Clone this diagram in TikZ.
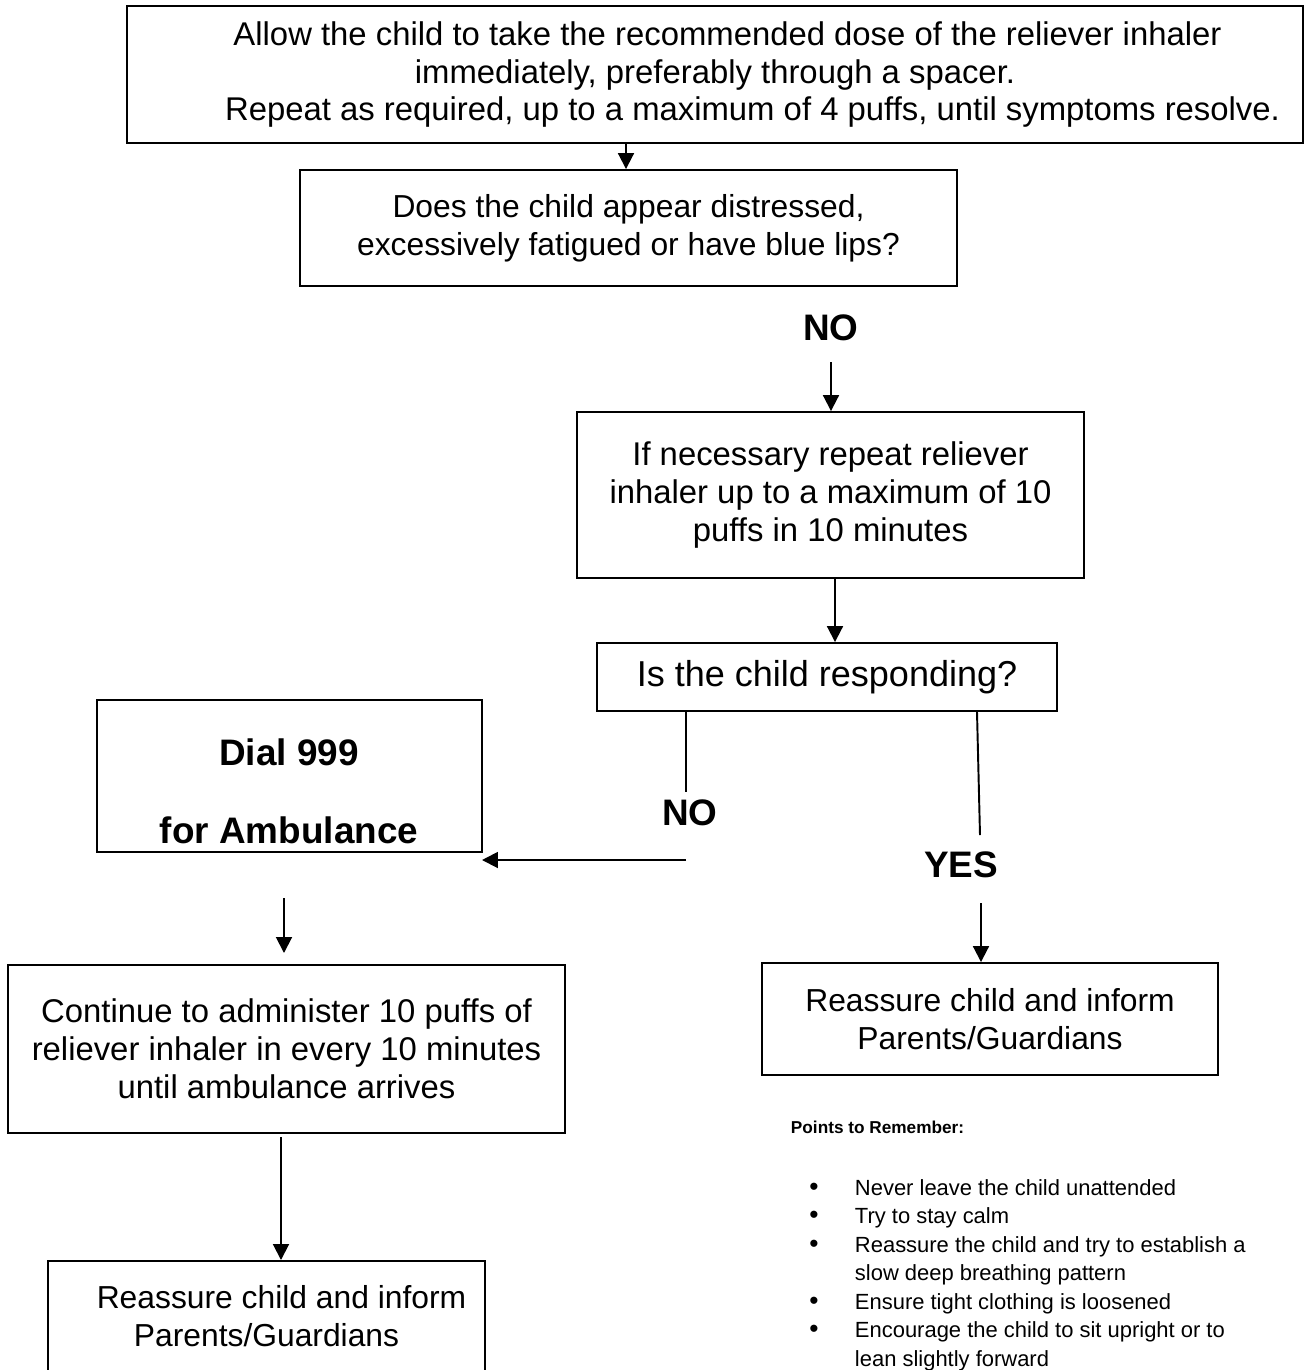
\documentclass[tikz,border=0pt]{standalone}
\usepackage{fontspec}
\setmainfont{Liberation Sans}
\usetikzlibrary{arrows.meta}
\newcommand{\boxfont}{\fontsize{18.7}{21.5}\selectfont}
\newcommand{\smallboxfont}{\fontsize{18.1}{21.5}\selectfont}
\newcommand{\tagfont}{\fontsize{21}{24}\selectfont\bfseries}
\newcommand{\notefont}{\fontsize{12.5}{16}\selectfont}
\begin{document}
\begin{tikzpicture}[x=0.02cm, y=-0.02cm,
    every path/.style={line width=1.1pt},
    stepbox/.style={draw, align=center, inner sep=0pt, font=\boxfont},
    tag/.style={font=\tagfont, inner sep=0pt},
    arr/.style={-{Triangle[length=9pt,width=9pt]}}]

    \useasboundingbox (0,0) rectangle (1305,1370);

    % boxes
    \node[stepbox, minimum width=23.52cm, minimum height=2.74cm] (allow) at (715,74.5)
        {\hspace*{0.5cm}Allow the child to take the recommended dose of the reliever inhaler\\
         immediately, preferably through a spacer.\\
         \hspace*{1.5cm}Repeat as required, up to a maximum of 4 puffs, until symptoms resolve.};
    \node[stepbox, font=\smallboxfont, minimum width=13.14cm, minimum height=2.32cm] (distress) at (628.5,228)
        {Does the child appear distressed,\\excessively fatigued or have blue lips?};
    \node[stepbox, minimum width=10.14cm, minimum height=3.32cm] (repeat) at (830.5,495)
        {If necessary repeat reliever\\inhaler up to a maximum of 10\\puffs in 10 minutes};
    \node[stepbox, font=\fontsize{20.5}{23}\selectfont, minimum width=9.2cm, minimum height=1.36cm] (respond) at (827,677)
        {Is the child responding?};
    \node[stepbox, minimum width=7.7cm, minimum height=3.04cm] (dial) at (289.5,776) {};
    \node[tag] (dialA) at (289,752) {Dial 999};
    \node[tag] (dialB) at (289,830) {for Ambulance};
    \node[stepbox, minimum width=11.14cm, minimum height=3.36cm] (continue) at (286.5,1049)
        {Continue to administer 10 puffs of\\reliever inhaler in every 10 minutes\\until ambulance arrives};
    \node[stepbox, minimum width=8.74cm, minimum height=3cm, anchor=north] (calmL) at (266.5,1260) {};
    \node[font=\smallboxfont, align=center, inner sep=0pt] (calmLt) at (266.5,1316)
        {\hspace*{0.6cm}Reassure child and inform\\Parents/Guardians};
    \node[stepbox, font=\smallboxfont, minimum width=9.12cm, minimum height=2.24cm] (calmR) at (990,1019)
        {Reassure child and inform\\Parents/Guardians};

    % labels
    \node[tag] (no1) at (831,328) {NO};
    \node[tag] (no2) at (690,813) {NO};
    \node[tag] (yes) at (961,865) {YES};

    % connectors
    \coordinate (c1) at (626,0);
    \draw[arr] (allow.south -| c1) -- (distress.north -| c1);
    \coordinate (c2) at (831,362);
    \draw[arr] (c2) -- (repeat.north -| c2);
    \coordinate (c3) at (835,0);
    \draw[arr] (repeat.south -| c3) -- (respond.north -| c3);
    \coordinate (c4) at (686,792);
    \draw (respond.south -| c4) -- (c4);
    \coordinate (c5) at (686,860);
    \coordinate (c6) at (482,860);
    \draw[arr] (c5) -- (c6);
    \coordinate (c7) at (980,835);
    \draw (respond.south -| 977,0) -- (c7);
    \coordinate (c8) at (981,903);
    \draw[arr] (c8) -- (calmR.north -| c8);
    \coordinate (c9) at (284,898);
    \coordinate (c10) at (284,953);
    \draw[arr] (c9) -- (c10);
    \coordinate (c11) at (281,1137);
    \draw[arr] (c11) -- (calmL.north -| c11);

    % points to remember
    \node[font=\fontsize{9.8}{12}\selectfont\bfseries, anchor=base west, inner sep=0pt] (points) at (790,1133)
        {Points to Remember:};
    \foreach \n/\y/\t in {1/1195/Never leave the child unattended,
                          2/1223.5/Try to stay calm,
                          3/1252/Reassure the child and try to establish a,
                          4/1309/Ensure tight clothing is loosened,
                          5/1337.5/Encourage the child to sit upright or to}
    {
        \node[font=\fontsize{15}{16}\selectfont, anchor=base, inner sep=0pt] (bul\n) at (814,\y) {\textbullet};
        \node[font=\notefont, anchor=base west, inner sep=0pt] (pt\n) at (854,\y) {\t};
    }
    \node[font=\notefont, anchor=base west, inner sep=0pt] (pt3b) at (854,1280.5) {slow deep breathing pattern};
    \node[font=\notefont, anchor=base west, inner sep=0pt] (pt5b) at (854,1366) {lean slightly forward};

\end{tikzpicture}
\end{document}
